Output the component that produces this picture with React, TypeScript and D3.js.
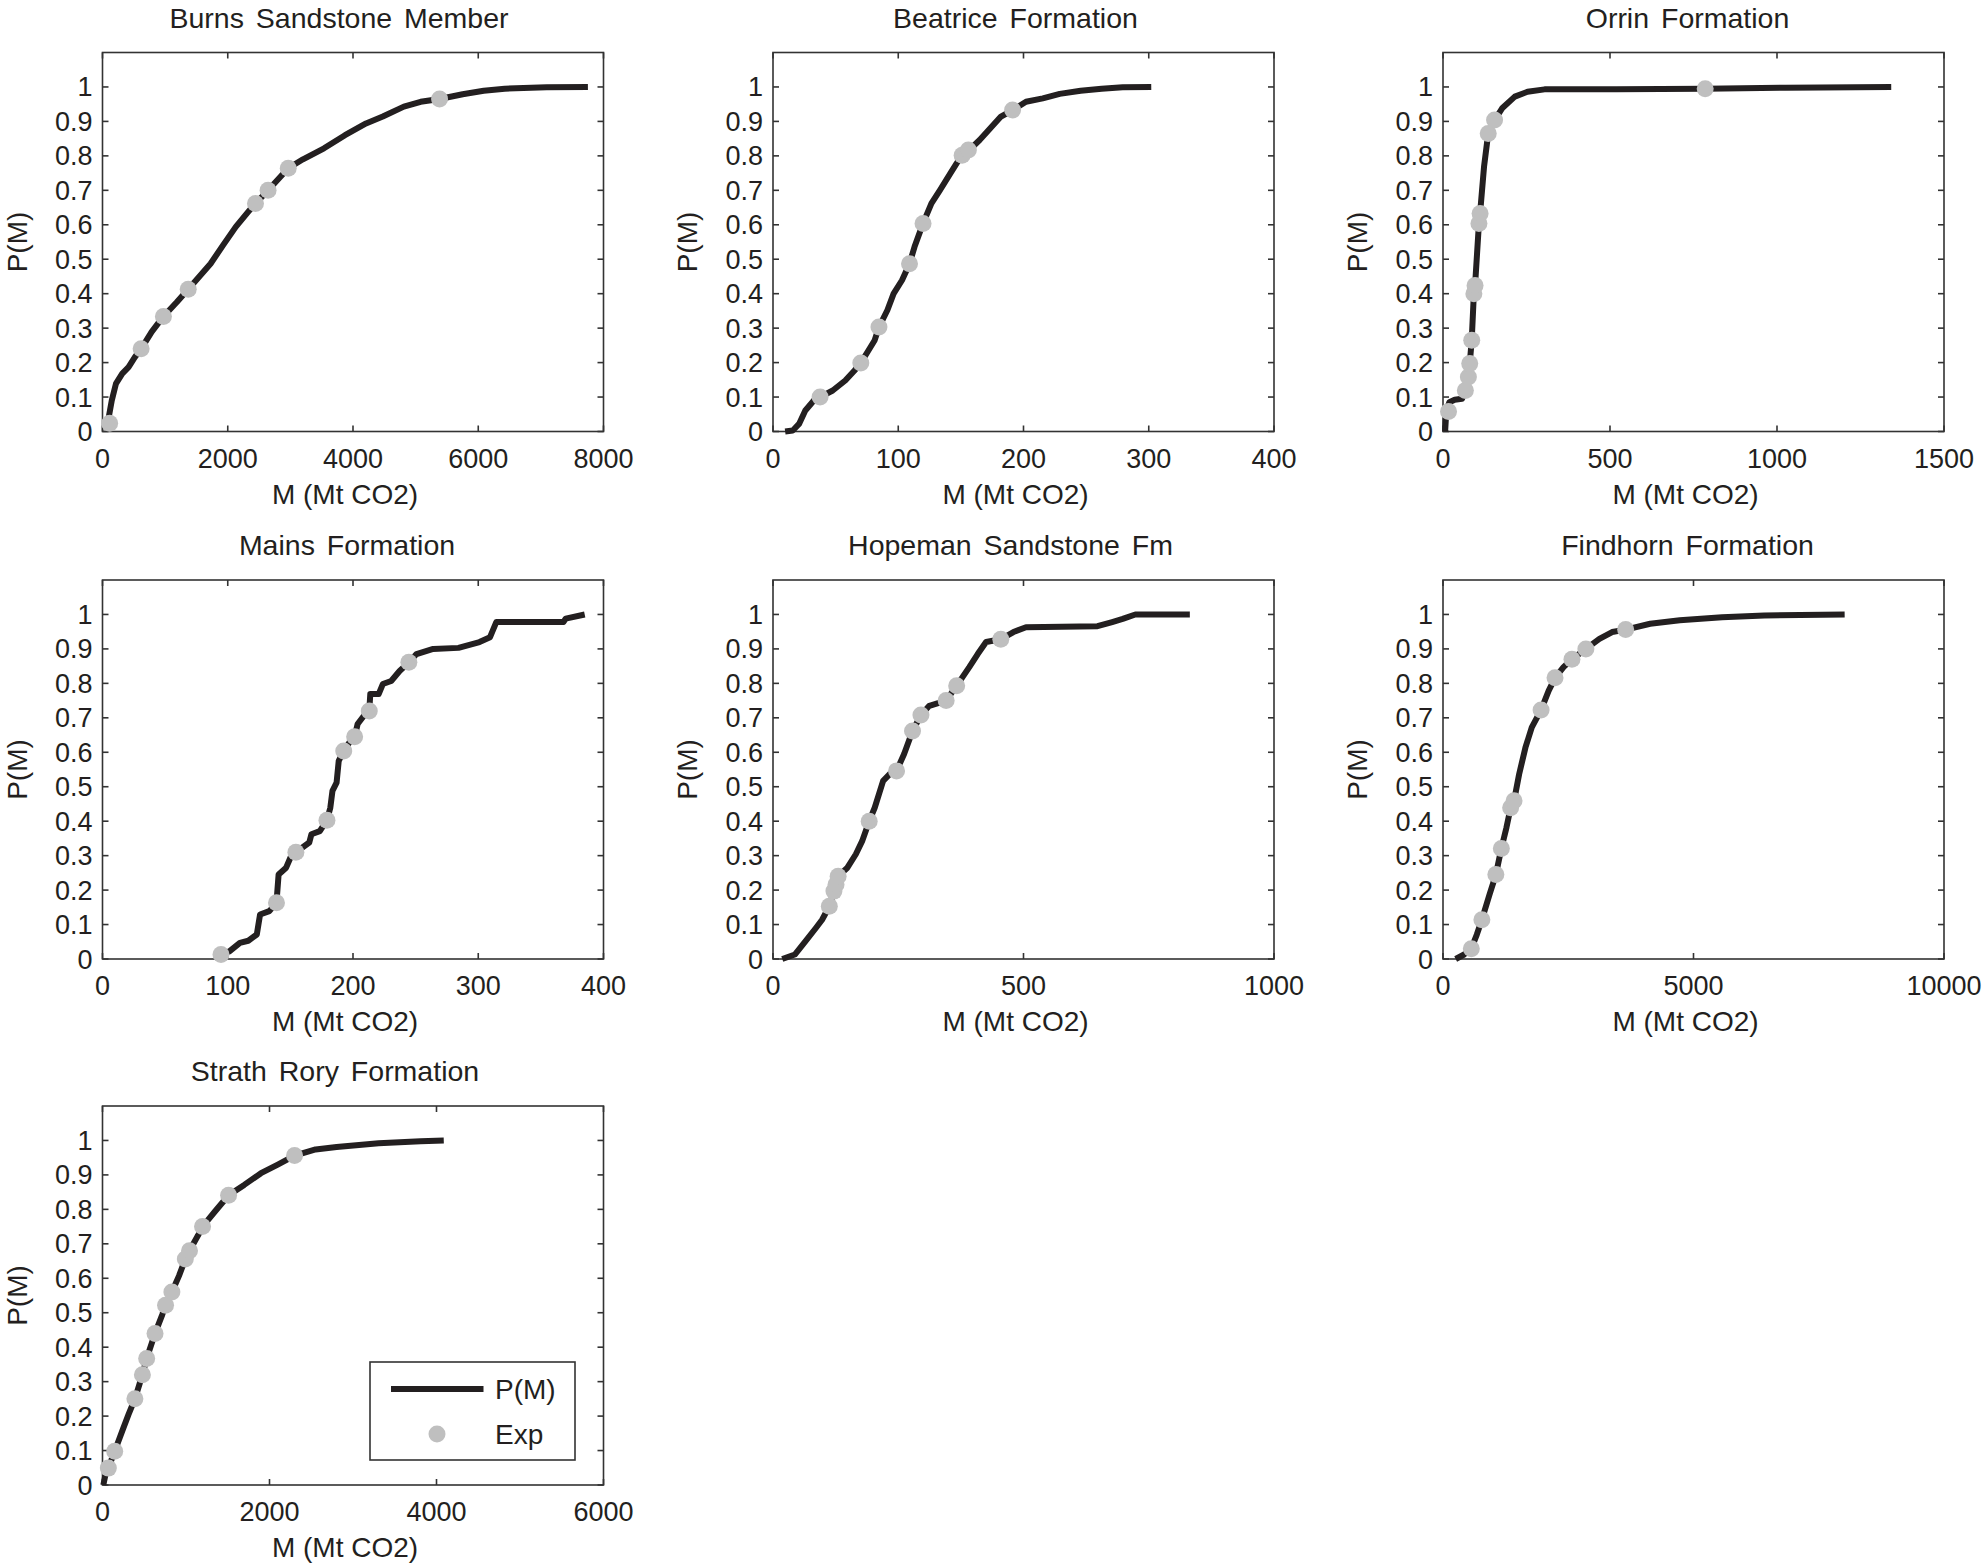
import React from "react";
import * as d3 from "d3";

// formation titles, in reading order
const titles = [
  "Burns Sandstone Member",
  "Beatrice Formation",
  "Orrin Formation",
  "Mains Formation",
  "Hopeman Sandstone Fm",
  "Findhorn Formation",
  "Strath Rory Formation",
];

// x axis ticks (Mt CO2) per panel
const xTicksList = [
  [0, 2000, 4000, 6000, 8000],
  [0, 100, 200, 300, 400],
  [0, 500, 1000, 1500],
  [0, 100, 200, 300, 400],
  [0, 500, 1000],
  [0, 5000, 10000],
  [0, 2000, 4000, 6000],
];
const yTicks = [0, 0.1, 0.2, 0.3, 0.4, 0.5, 0.6, 0.7, 0.8, 0.9, 1];

// P(M) curves, [M, P]
const burnsCurve: [number, number][] = [
  [80, 0.022], [148, 0.09], [215, 0.139], [315, 0.168], [416, 0.187], [517, 0.216],
  [617, 0.24], [785, 0.289], [973, 0.334], [1188, 0.376], [1369, 0.413], [1725, 0.487],
  [1926, 0.541], [2128, 0.594], [2329, 0.638], [2443, 0.662], [2644, 0.7], [2966, 0.764],
  [3201, 0.79], [3537, 0.822], [3872, 0.86], [4208, 0.894], [4476, 0.914], [4812, 0.943],
  [5080, 0.957], [5382, 0.965], [5751, 0.979], [6087, 0.989], [6422, 0.995], [7093, 0.999],
  [7751, 1.0],
];
const beatriceCurve: [number, number][] = [
  [9.7, 0], [15.8, 0.003], [20.8, 0.022], [25.8, 0.061], [32.6, 0.09], [37.6, 0.1],
  [47.7, 0.119], [57.7, 0.148], [65.1, 0.177], [70.1, 0.199], [76.2, 0.235], [81.2, 0.265],
  [84.6, 0.303], [91.3, 0.352], [96.3, 0.4], [103, 0.439], [109, 0.487], [113, 0.536],
  [119.8, 0.604], [126.5, 0.662], [133.2, 0.7], [141.6, 0.749], [146.6, 0.778], [151, 0.802],
  [156.7, 0.817], [165, 0.846], [173.5, 0.88], [182, 0.914], [191.3, 0.933], [202, 0.957],
  [215.4, 0.967], [228.9, 0.98], [245.6, 0.989], [262.4, 0.995], [279.2, 0.999], [302, 1.0],
];
const orrinCurve: [number, number][] = [
  [6.3, 0], [10, 0.061], [19, 0.085], [35, 0.092], [57, 0.095], [67, 0.119], [76, 0.158],
  [80, 0.197], [86, 0.265], [92.4, 0.4], [96, 0.424], [107.6, 0.604], [111, 0.633],
  [122.8, 0.768], [135.4, 0.865], [154.4, 0.904], [177, 0.938], [215, 0.972], [253, 0.986],
  [304, 0.993], [519, 0.993], [785, 0.995], [1025, 0.998], [1342, 1.0],
];
const mainsCurve: [number, number][] = [
  [94.6, 0.013], [101.3, 0.022], [109.7, 0.047], [116.4, 0.053], [123.2, 0.071], [125.8, 0.129],
  [133.2, 0.139], [138.9, 0.163], [140.6, 0.245], [146.6, 0.265], [150, 0.294], [154.4, 0.31],
  [165.1, 0.338], [166.8, 0.362], [173.5, 0.371], [179.2, 0.403], [181.9, 0.439], [183.6, 0.488],
  [186.9, 0.512], [188.6, 0.575], [192.6, 0.604], [197, 0.628], [201.3, 0.645], [203.7, 0.682],
  [208.7, 0.706], [213, 0.72], [213.8, 0.769], [220.5, 0.769], [223.8, 0.798], [230.5, 0.807],
  [237.2, 0.836], [244.6, 0.861], [250.7, 0.885], [264, 0.9], [284.2, 0.903], [301, 0.92],
  [309.4, 0.934], [314.4, 0.978], [368, 0.978], [369.8, 0.988], [385, 1.0],
];
const hopemanCurve: [number, number][] = [
  [18.5, 0], [43.6, 0.013], [64.6, 0.051], [85.6, 0.09], [98, 0.114], [112.4, 0.153],
  [121.6, 0.197], [125.8, 0.216], [130, 0.24], [148.5, 0.265], [165.3, 0.304], [177.9, 0.342],
  [192, 0.4], [203, 0.439], [219.8, 0.517], [232.4, 0.536], [246.6, 0.546], [261.7, 0.595],
  [278.5, 0.662], [295.3, 0.708], [312, 0.735], [345.6, 0.75], [366.6, 0.793], [391.8, 0.847],
  [408.6, 0.885], [425.3, 0.92], [454.7, 0.928], [479.9, 0.949], [505, 0.963], [647.7, 0.966],
  [677, 0.978], [698, 0.987], [723.2, 1.0], [832, 1.0],
];
const findhornCurve: [number, number][] = [
  [253, 0], [422, 0.013], [565, 0.03], [675, 0.071], [776, 0.114], [928, 0.187], [1055, 0.245],
  [1165, 0.321], [1266, 0.381], [1350, 0.439], [1418, 0.459], [1519, 0.536], [1646, 0.614],
  [1772, 0.672], [1958, 0.723], [2110, 0.779], [2236, 0.816], [2405, 0.847], [2574, 0.87],
  [2852, 0.9], [3122, 0.929], [3376, 0.949], [3646, 0.956], [4135, 0.973], [4726, 0.983],
  [5570, 0.992], [6414, 0.997], [8017, 1.0],
];
const strathCurve: [number, number][] = [
  [10, 0], [35, 0.029], [70, 0.049], [146, 0.098], [237, 0.157], [312, 0.205], [388, 0.25],
  [478, 0.32], [529, 0.367], [629, 0.44], [715, 0.494], [755, 0.522], [831, 0.56], [916, 0.607],
  [992, 0.656], [1042, 0.68], [1143, 0.724], [1198, 0.75], [1344, 0.793], [1510, 0.841],
  [1697, 0.871], [1898, 0.905], [2099, 0.93], [2300, 0.956], [2552, 0.974], [2804, 0.981],
  [3307, 0.992], [3810, 0.998], [4087, 1.0],
];

// experimental points, [M, P]
const burnsExp: [number, number][] = [
  [114, 0.024], [617, 0.24], [973, 0.334], [1369, 0.413], [2443, 0.662], [2644, 0.7],
  [2966, 0.764], [5382, 0.965],
];
const beatriceExp: [number, number][] = [
  [37.6, 0.1], [70.1, 0.199], [84.6, 0.303], [109, 0.487], [119.8, 0.604], [151, 0.802],
  [156, 0.817], [191.3, 0.933],
];
const orrinExp: [number, number][] = [
  [16.5, 0.058], [67, 0.119], [76, 0.158], [80, 0.197], [86, 0.265], [92.4, 0.4], [96, 0.424],
  [107.6, 0.604], [111, 0.633], [135.4, 0.865], [154.4, 0.904], [785, 0.995],
];
const mainsExp: [number, number][] = [
  [94.6, 0.013], [138.9, 0.163], [154.4, 0.31], [179.2, 0.403], [192.6, 0.604],
  [201.3, 0.645], [213, 0.72], [244.6, 0.861],
];
const hopemanExp: [number, number][] = [
  [112.4, 0.153], [121.6, 0.197], [125.8, 0.216], [130, 0.24], [192, 0.4], [246.6, 0.546],
  [278.5, 0.662], [295.3, 0.708], [345.6, 0.75], [366.6, 0.793], [454.7, 0.928],
];
const findhornExp: [number, number][] = [
  [565, 0.03], [776, 0.114], [1055, 0.245], [1165, 0.321], [1350, 0.439], [1418, 0.459],
  [1958, 0.723], [2236, 0.816], [2574, 0.87], [2852, 0.9], [3646, 0.956],
];
const strathExp: [number, number][] = [
  [70, 0.049], [146, 0.098], [388, 0.25], [478, 0.32], [529, 0.367], [629, 0.44], [755, 0.522],
  [831, 0.56], [992, 0.656], [1042, 0.68], [1198, 0.75], [1510, 0.841], [2300, 0.956],
];

const curves = [burnsCurve, beatriceCurve, orrinCurve, mainsCurve, hopemanCurve, findhornCurve, strathCurve];
const exps = [burnsExp, beatriceExp, orrinExp, mainsExp, hopemanExp, findhornExp, strathExp];

const W = 1984;
const H = 1568;
const colLefts = [102.5, 773, 1443];
const rowTops = [52.5, 580, 1106];
const plotW = 501;
const plotH = 379;
// titles sit a little left of the box centre in the original
const titleShift = [-14, -8, -6, -6, -13, -6, -18];

const INK = "#231f20";
const GREY = "#bfbfbf";
const FONT = "'Liberation Sans', Arial, sans-serif";
const FS = 27;

interface PanelProps {
  idx: number;
  left: number;
  top: number;
  legend?: boolean;
}

const fmtY = (v: number) => String(+v.toFixed(1));

const Panel: React.FC<PanelProps> = ({ idx, left, top, legend }) => {
  const xTicks = xTicksList[idx];
  const x = d3.scaleLinear().domain([0, xTicks[xTicks.length - 1]]).range([0, plotW]);
  const y = d3.scaleLinear().domain([0, 1.1]).range([plotH, 0]);
  const line = d3
    .line<[number, number]>()
    .x((d) => x(d[0]))
    .y((d) => y(d[1]))
    .curve(d3.curveLinear);
  const tl = 6;

  return (
    <g transform={`translate(${left},${top})`} fontFamily={FONT} fill={INK}>
      <text
        x={plotW / 2 + titleShift[idx]}
        y={-25}
        textAnchor="middle"
        fontSize={28.5}
        wordSpacing={4}
      >
        {titles[idx]}
      </text>
      <rect width={plotW} height={plotH} fill="#fff" stroke="#333" strokeWidth={1.6} />
      {xTicks.map((t) => (
        <g key={"x" + t}>
          <line x1={x(t)} x2={x(t)} y1={plotH} y2={plotH - tl} stroke="#333" strokeWidth={1.6} />
          <line x1={x(t)} x2={x(t)} y1={0} y2={tl} stroke="#333" strokeWidth={1.6} />
          <text x={x(t)} y={plotH + 36} textAnchor="middle" fontSize={FS}>
            {t}
          </text>
        </g>
      ))}
      {yTicks.map((t) => (
        <g key={"y" + t}>
          <line x1={0} x2={tl} y1={y(t)} y2={y(t)} stroke="#333" strokeWidth={1.6} />
          <line x1={plotW} x2={plotW - tl} y1={y(t)} y2={y(t)} stroke="#333" strokeWidth={1.6} />
          <text x={-10} y={y(t) + 9.5} textAnchor="end" fontSize={FS}>
            {fmtY(t)}
          </text>
        </g>
      ))}
      <text x={plotW / 2 - 8} y={plotH + 72} textAnchor="middle" fontSize={28}>
        M (Mt CO2)
      </text>
      <text
        transform={`translate(${-76},${plotH / 2}) rotate(-90)`}
        textAnchor="middle"
        fontSize={28}
      >
        P(M)
      </text>
      <path
        d={line(curves[idx]) || ""}
        fill="none"
        stroke={INK}
        strokeWidth={6}
        strokeLinejoin="round"
      />
      {exps[idx].map((d, i) => (
        <circle key={i} cx={x(d[0])} cy={y(d[1])} r={8.5} fill={GREY} />
      ))}
      {legend && (
        <g>
          <rect x={267.5} y={256} width={205} height={98} fill="#fff" stroke="#333" strokeWidth={1.6} />
          <line x1={288.5} x2={381} y1={283} y2={283} stroke={INK} strokeWidth={6} />
          <text x={392.5} y={292.5} fontSize={28}>
            P(M)
          </text>
          <circle cx={334.5} cy={328} r={8.5} fill={GREY} />
          <text x={392.5} y={337.5} fontSize={28}>
            Exp
          </text>
        </g>
      )}
    </g>
  );
};

export default function App() {
  return (
    <svg
      width={W}
      height={H}
      style={{ position: "absolute", left: 0, top: 0, background: "#fff" }}
    >
      <rect width={W} height={H} fill="#fff" />
      {titles.map((_, i) => (
        <Panel
          key={i}
          idx={i}
          left={colLefts[i % 3]}
          top={rowTops[Math.floor(i / 3)]}
          legend={i === 6}
        />
      ))}
    </svg>
  );
}
